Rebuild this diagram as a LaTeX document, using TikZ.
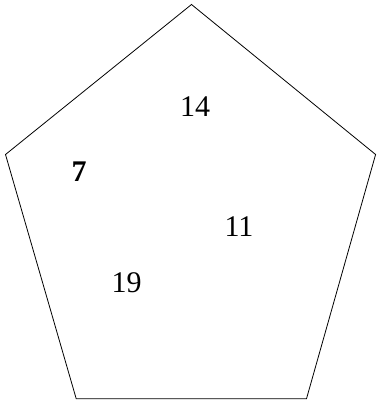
\documentclass[tikz,border=0pt]{standalone}
\usepackage{fontspec}
\setmainfont{Liberation Serif}
\usepackage{tikz}

\begin{document}
\begin{tikzpicture}[
        x=0.5pt,
        y=-0.5pt,
        side/.style={
            line width=0.4pt,
            line join=miter
        },
        entry/.style={
            inner sep=0pt,
            font=\fontsize{15}{18}\selectfont
        }
    ]

    \useasboundingbox (0,0) rectangle (376,401);

    % Corners of the pentagon
    \coordinate (top) at (191.5,4.5);
    \coordinate (right) at (375.6,154.5);
    \coordinate (lowright) at (306.5,398.7);
    \coordinate (lowleft) at (76.2,398.7);
    \coordinate (left) at (5.5,154.5);

    % Outline
    \draw[side] (top) -- (right) -- (lowright) -- (lowleft) -- (left) -- cycle;

    % Numbers inside
    \node[entry] (n14) at (195,107) {14};
    \node[entry] (n7) at (79,171.5) {\bfseries 7};
    \node[entry] (n11) at (239,226.7) {11};
    \node[entry] (n19) at (126.5,283) {19};

    \end{tikzpicture}
\end{document}
